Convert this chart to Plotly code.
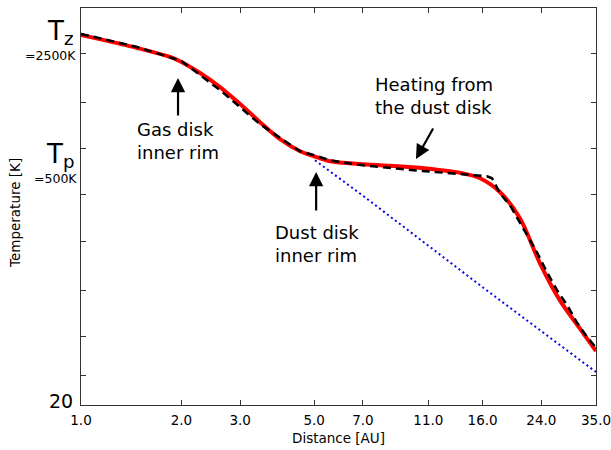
import math
import plotly.graph_objects as go

# Radial temperature profile of the disk
distance_model = [1.0, 1.164, 1.472, 1.849, 2.0, 2.274, 2.611, 3.0, 3.441, 3.952, 4.536,
                  5.0, 5.58, 7.0, 9.9, 13.98, 15.72, 18.05, 20.72, 23.79, 27.31, 31.36, 35.0]
temp_model = [3251, 3034, 2716, 2399, 2239, 1924, 1586, 1255, 979, 774, 656,
              612, 571, 548, 526, 484, 452, 373, 260, 140, 84, 57, 42]

distance_fit = [1.0, 1.472, 2.0, 2.611, 3.441, 4.536, 5.0, 5.58, 7.0, 9.9, 13.98, 16.5,
                17.08, 18.05, 19.34, 21.15, 23.3, 24.96, 26.75, 28.67, 30.71, 32.91, 35.0]
temp_fit = [3296, 2754, 2270, 1522, 952, 656, 621, 579, 541, 505, 478, 465,
            452, 367, 311, 227, 163, 124, 97, 79, 62, 51, 44]

# Profile without the dust-disk heating
distance_bare = [5.03, 7.0, 11.0, 16.0, 24.0, 35.0]
temp_bare = [579, 356, 179, 101, 55.2, 31.5]

x_ticks = [1.0, 2.0, 3.0, 5.0, 7.0, 11.0, 16.0, 24.0, 35.0]
x_ticktext = ["1.0", "2.0", "3.0", "5.0", "7.0", "11.0", "16.0", "24.0", "35.0"]
y_ticks = [30, 51, 96, 190, 363, 684, 1289, 2500]

W, H = 611, 450
L, R, T, B = 81, 15, 8, 45
PW, PH = W - L - R, H - T - B
FONT = "DejaVu Sans"


def px(x):
    return (x - L) / PW


def py(y):
    return (H - B - y) / PH


fig = go.Figure()
fig.add_trace(go.Scatter(x=distance_bare, y=temp_bare, mode="lines",
                         line=dict(color="#0000ff", width=2, dash="2px,3px")))
fig.add_trace(go.Scatter(x=distance_model, y=temp_model, mode="lines",
                         line=dict(color="#ff0000", width=4, shape="spline", smoothing=0.8)))
fig.add_trace(go.Scatter(x=distance_fit, y=temp_fit, mode="lines",
                         line=dict(color="black", width=2.5, dash="8px,5px")))

axis_style = dict(showline=True, linecolor="#333", linewidth=1.3, mirror="ticks",
                  ticks="inside", ticklen=5, tickcolor="#333", tickwidth=1,
                  showgrid=False, zeroline=False, automargin=False)

fig.update_xaxes(type="log", range=[0, math.log10(35.0)], tickvals=x_ticks,
                 ticktext=x_ticktext, tickfont=dict(family=FONT, size=13.5, color="black"),
                 ticklabelstandoff=3, ticklabeloverflow="allow", **axis_style)
fig.update_yaxes(type="log", range=[math.log10(20), 3.6726], tickvals=y_ticks,
                 ticktext=[""] * len(y_ticks), **axis_style)

ann = []


def label(text, x, y, size, xanchor="right", align="right", angle=0):
    ann.append(dict(text=text, x=px(x), y=py(y), xref="paper", yref="paper",
                    xanchor=xanchor, yanchor="middle", align=align, showarrow=False,
                    textangle=angle, font=dict(family=FONT, size=size, color="black")))


# Y-axis value labels
label("T<sub>z</sub>", 75, 32, 26)
label("=2500K", 78, 55, 12.5)
label("T<sub>p</sub>", 76, 155, 26)
label("=500K", 79, 178, 12.5)
label("20", 75, 401, 19)

# Axis titles
label("Distance [AU]", 338, 438, 13.5, xanchor="center", align="center")
label("Temperature [K]", 15, 213, 13.5, xanchor="center", align="center", angle=-90)

# Feature labels
label("Gas disk<br>inner rim", 135, 141, 18, xanchor="left", align="left")
label("Dust disk<br>inner rim", 273, 244, 18, xanchor="left", align="left")
label("Heating from<br>the dust disk", 373, 96, 18, xanchor="left", align="left")

# Arrows pointing to the features (tip in data coords, tail offset in pixels)
for tip_x, tip_y, ax, ay in [(1.954, 1796, 0, 39), (5.07, 493, 0, 40), (10.1, 590, 18, -32)]:
    ann.append(dict(x=math.log10(tip_x), y=math.log10(tip_y), xref="x", yref="y",
                    text="", showarrow=True, arrowhead=2, arrowsize=1.3, arrowwidth=2.2,
                    arrowcolor="black", ax=ax, ay=ay, standoff=0, startstandoff=0))

fig.update_layout(width=W, height=H, margin=dict(l=L, r=R, t=T, b=B),
                  paper_bgcolor="white", plot_bgcolor="white", showlegend=False,
                  annotations=ann, font=dict(family=FONT))

fig.write_html("out.html")
